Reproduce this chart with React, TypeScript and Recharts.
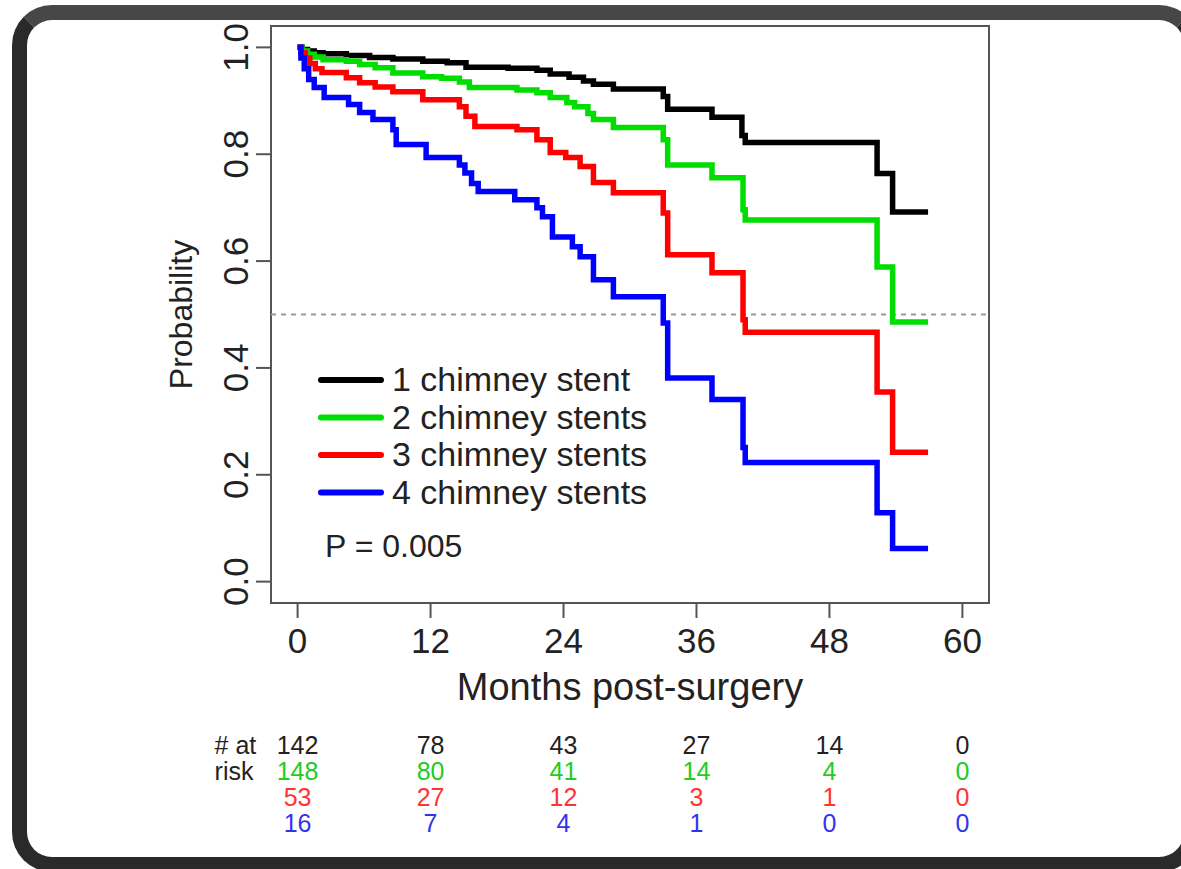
import React from 'react'
import {
  LineChart,
  Line,
  XAxis,
  YAxis,
  ReferenceLine,
  ReferenceArea
} from 'recharts'

const FONT = '"Liberation Sans", Arial, Helvetica, sans-serif'

// axis ticks
const monthTicks = [0, 12, 24, 36, 48, 60]
const probTicks = [0, 0.2, 0.4, 0.6, 0.8, 1.0]

const seriesNames = ['1 chimney stent', '2 chimney stents', '3 chimney stents', '4 chimney stents']
const seriesColors = ['#000000', '#00dd00', '#ff0000', '#0000ff']
const riskColors = ['#222222', '#22cc22', '#ff3333', '#3333ee']

// number at risk at 0, 12, 24, 36, 48, 60 months
const risk1 = [142, 78, 43, 27, 14, 0]
const risk2 = [148, 80, 41, 14, 4, 0]
const risk3 = [53, 27, 12, 3, 1, 0]
const risk4 = [16, 7, 4, 1, 0, 0]
const riskRows = [risk1, risk2, risk3, risk4]

// Kaplan-Meier steps: [month, survival]
const km1: [number, number][] = [
  [0, 1], [0.4, 0.996], [0.9, 0.993], [1.5, 0.99], [2.3, 0.988], [4.4, 0.985],
  [6.5, 0.981], [8.6, 0.978], [11.3, 0.974], [13.5, 0.971], [15.2, 0.963],
  [19, 0.961], [21.6, 0.957], [22.8, 0.95], [24.5, 0.944], [25.8, 0.937],
  [26.7, 0.931], [28.5, 0.922], [33, 0.908], [33.4, 0.884], [37.4, 0.869],
  [40.1, 0.835], [40.4, 0.822], [52.3, 0.764], [53.7, 0.692], [56.9, 0.692]
]
const km2: [number, number][] = [
  [0, 1], [0.4, 0.993], [0.9, 0.987], [1.5, 0.982], [2.3, 0.977], [4.4, 0.974],
  [5.6, 0.968], [7, 0.962], [8.6, 0.952], [11.3, 0.945], [13, 0.942],
  [14.6, 0.935], [15.5, 0.925], [19.8, 0.92], [21.6, 0.915], [22.8, 0.906],
  [24.3, 0.897], [25, 0.889], [26.2, 0.876], [26.7, 0.865], [28.5, 0.85],
  [33, 0.827], [33.4, 0.78], [37.4, 0.756], [40.2, 0.696], [40.4, 0.677],
  [52.3, 0.589], [53.7, 0.486], [56.9, 0.486]
]
const km3: [number, number][] = [
  [0, 1], [0.3, 0.99], [0.7, 0.98], [1.1, 0.97], [1.6, 0.96], [2.2, 0.953],
  [4.4, 0.943], [5.6, 0.934], [7, 0.926], [8.6, 0.917], [11.3, 0.902],
  [14.6, 0.889], [15.2, 0.871], [16, 0.852], [19.8, 0.846], [21.6, 0.827],
  [22.8, 0.803], [24.2, 0.794], [25.5, 0.777], [26.7, 0.747], [28.5, 0.728],
  [33, 0.69], [33.4, 0.612], [37.4, 0.578], [40.2, 0.49], [40.4, 0.467],
  [52.3, 0.355], [53.7, 0.242], [56.9, 0.242]
]
const km4: [number, number][] = [
  [0, 1], [0.3, 0.98], [0.6, 0.96], [1, 0.94], [1.5, 0.925], [2.4, 0.906],
  [4.6, 0.893], [5.6, 0.878], [6.8, 0.865], [8.6, 0.846], [8.9, 0.818],
  [11.6, 0.794], [14.6, 0.78], [15.1, 0.765], [15.7, 0.745], [16.3, 0.73],
  [19.6, 0.715], [21.6, 0.7], [22.1, 0.683], [23, 0.645], [24.8, 0.627],
  [25.5, 0.608], [26.7, 0.565], [28.5, 0.533], [33, 0.484], [33.4, 0.381],
  [37.4, 0.341], [40.2, 0.251], [40.4, 0.223], [52.3, 0.129], [53.7, 0.062],
  [56.9, 0.062]
]
const curves = [km1, km2, km3, km4]

const toRows = (pts: [number, number][]) => pts.map(([t, s]) => ({ t, s }))

function MonthTick({ x, y, payload, index }: any) {
  return (
    <g fontFamily={FONT}>
      <text x={x} y={y + 35} textAnchor="middle" fontSize={35} fill="#222">
        {payload.value}
      </text>
      {index === 0 && (
        <>
          <text x={x - 83} y={y + 136} fontSize={25} fill="#222">
            # at
          </text>
          <text x={x - 83} y={y + 162} fontSize={25} fill="#222">
            risk
          </text>
        </>
      )}
      {riskRows.map((row, i) => (
        <text
          key={i}
          x={x}
          y={y + 136 + i * 26}
          textAnchor="middle"
          fontSize={25}
          fill={riskColors[i]}
        >
          {row[index]}
        </text>
      ))}
    </g>
  )
}

function ProbTick({ x, y, payload }: any) {
  const bx = x - 8
  return (
    <text
      x={bx}
      y={y}
      transform={`rotate(-90, ${bx}, ${y})`}
      textAnchor="middle"
      fontSize={35}
      fontFamily={FONT}
      fill="#222"
    >
      {payload.value.toFixed(1)}
    </text>
  )
}

export default function App() {
  return (
    <div
      style={{
        position: 'absolute',
        left: 0,
        top: 0,
        width: 1181,
        height: 869,
        overflow: 'hidden',
        background: '#fff',
        fontFamily: FONT
      }}
    >
      <div
        style={{
          position: 'absolute',
          left: 12,
          top: 5,
          width: 1187,
          height: 867,
          boxSizing: 'border-box',
          border: '15px solid #2a2a2a',
          borderTopColor: '#474747',
          borderRadius: 40
        }}
      />
      <div style={{ position: 'absolute', left: 0, top: 0 }}>
        <LineChart
          width={1181}
          height={869}
          margin={{ top: 26, right: 192, left: 171, bottom: 16 }}
        >
          <XAxis
            type="number"
            dataKey="t"
            domain={[-2.4, 62.4]}
            ticks={monthTicks}
            allowDataOverflow
            axisLine={false}
            tickSize={15}
            tickMargin={0}
            tickLine={{ stroke: '#555', strokeWidth: 2 }}
            height={250}
            tick={<MonthTick />}
            label={({ viewBox }: any) => (
              <text
                x={viewBox.x + viewBox.width / 2}
                y={viewBox.y + 97}
                textAnchor="middle"
                fontSize={38}
                fontFamily={FONT}
                fill="#222"
              >
                Months post-surgery
              </text>
            )}
          />
          <YAxis
            type="number"
            domain={[-0.04, 1.04]}
            ticks={probTicks}
            allowDataOverflow
            axisLine={false}
            tickSize={15}
            tickMargin={0}
            tickLine={{ stroke: '#555', strokeWidth: 2 }}
            width={100}
            tick={<ProbTick />}
            label={({ viewBox }: any) => {
              const lx = viewBox.x + 21
              const ly = viewBox.y + viewBox.height / 2
              return (
                <text
                  x={lx}
                  y={ly}
                  transform={`rotate(-90, ${lx}, ${ly})`}
                  textAnchor="middle"
                  fontSize={32}
                  fontFamily={FONT}
                  fill="#222"
                >
                  Probability
                </text>
              )
            }}
          />
          <ReferenceArea
            x1={-2.4}
            x2={62.4}
            y1={-0.04}
            y2={1.04}
            fill="none"
            fillOpacity={0}
            stroke="#555"
            strokeWidth={2}
            ifOverflow="visible"
          />
          <ReferenceLine y={0.5} stroke="#9a9a9a" strokeWidth={2} strokeDasharray="5 5" />
          {curves.map((pts, i) => (
            <Line
              key={seriesNames[i]}
              name={seriesNames[i]}
              data={toRows(pts)}
              dataKey="s"
              type="stepAfter"
              stroke={seriesColors[i]}
              strokeWidth={5.5}
              dot={false}
              isAnimationActive={false}
            />
          ))}
        </LineChart>
      </div>
      <svg
        width={420}
        height={240}
        style={{ position: 'absolute', left: 300, top: 340 }}
      >
        {seriesNames.map((name, i) => (
          <g key={name}>
            <line
              x1={21}
              x2={81}
              y1={40 + i * 37.5}
              y2={40 + i * 37.5}
              stroke={seriesColors[i]}
              strokeWidth={6}
              strokeLinecap="round"
            />
            <text x={92} y={51 + i * 37.5} fontSize={34} fontFamily={FONT} fill="#222">
              {name}
            </text>
          </g>
        ))}
        <text x={25} y={217} fontSize={32} fontFamily={FONT} fill="#222">
          P = 0.005
        </text>
      </svg>
    </div>
  )
}
